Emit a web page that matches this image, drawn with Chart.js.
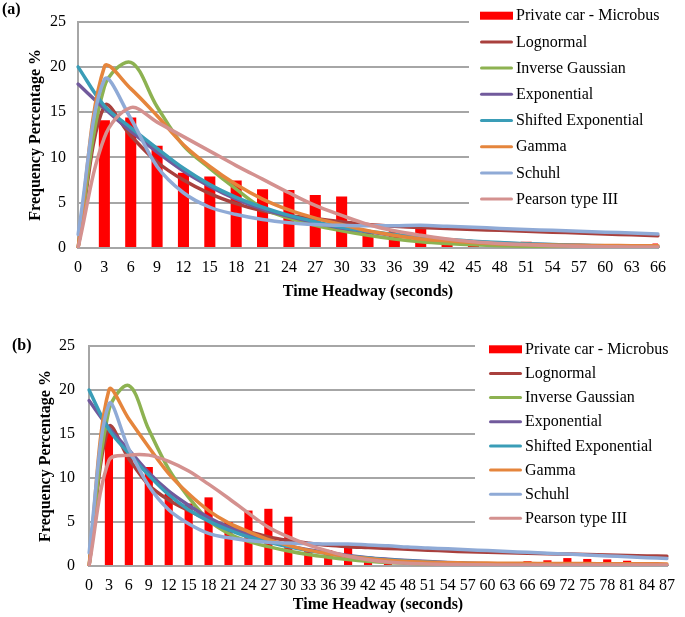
<!DOCTYPE html>
<html><head><meta charset="utf-8">
<script src="https://cdn.jsdelivr.net/npm/chart.js@4.4.0/dist/chart.umd.min.js"></script>
<style>
html,body{margin:0;padding:0;background:#fff;width:685px;height:617px;overflow:hidden;}
canvas{position:absolute;left:0;}
#ca{top:0;width:685px;height:300px;}
#cb{top:300px;width:685px;height:317px;}
</style></head><body>
<canvas id="ca" width="685" height="300"></canvas>
<canvas id="cb" width="685" height="317"></canvas>
<script>
// ---------- data ----------
const seriesNames = ['Private car - Microbus','Lognormal','Inverse Gaussian','Exponential','Shifted Exponential','Gamma','Schuhl','Pearson type III'];
const seriesColors = ['#FF0000','#A9403D','#8DB251','#715A9C','#3A9DB7','#E5853C','#8FAAD6','#D4918F'];
const yTitle = 'Frequency Percentage %';
const xTitle = 'Time Headway (seconds)';

// panel (a)
const catsA = [0,3,6,9,12,15,18,21,24,27,30,33,36,39,42,45,48,51,54,57,60,63,66];
const barA = [0,14.1,14.4,11.3,8.3,7.9,7.45,6.5,6.4,5.85,5.7,2.0,2.0,2.2,0.7,0.5,0.3,0.7,0.1,0,0.4,0,0.5];
const lognA = [0,15.7,12.4,9.5,7.5,6.0,4.9,4.1,3.6,3.25,2.9,2.6,2.4,2.25,2.15,2.05,1.95,1.85,1.75,1.65,1.55,1.45,1.35];
const invGA = [0,17.8,20.5,15.6,11.3,8.8,6.5,4.4,3.3,2.5,1.9,1.4,1.0,0.7,0.5,0.35,0.25,0.18,0.13,0.1,0.08,0.06,0.05];
const expA = [18.1,15.4,12.9,10.6,8.5,6.8,5.4,4.3,3.5,2.8,2.2,1.8,1.4,1.1,0.9,0.7,0.56,0.45,0.36,0.29,0.23,0.18,0.15];
const shExpA = [20.0,15.7,13.3,11.0,8.8,7.0,5.6,4.5,3.6,2.9,2.3,1.85,1.5,1.2,0.95,0.75,0.6,0.48,0.38,0.3,0.24,0.19,0.15];
const gammaA = [0,20.0,17.6,14.6,11.4,9.0,7.0,5.4,4.2,3.3,2.6,1.9,1.4,1.0,0.8,0.6,0.45,0.38,0.33,0.3,0.28,0.26,0.25];
const schuhlA = [1.5,18.6,14.3,9.0,6.1,4.5,3.7,3.15,2.8,2.6,2.5,2.45,2.45,2.5,2.4,2.3,2.15,2.05,1.95,1.85,1.75,1.65,1.55];
const pearsonA = [0,12.2,15.5,13.9,12.3,10.7,9.1,7.6,6.1,4.7,3.6,2.6,1.9,1.4,1.0,0.7,0.5,0.35,0.25,0.18,0.15,0.12,0.1];

// panel (b)
const catsB = [0,3,6,9,12,15,18,21,24,27,30,33,36,39,42,45,48,51,54,57,60,63,66,69,72,75,78,81,84,87];
const barB = [0,15.2,12.4,11.25,8.2,7.1,7.8,5.0,6.3,6.5,5.6,1.8,1.8,2.2,0.9,0.6,0.4,0.3,0.1,0,0,0,0.55,0.65,0.9,0.8,0.75,0.6,0.45,0];
const lognB = [0,15.8,12.2,9.2,7.5,6.3,5.3,4.5,3.9,3.3,2.9,2.6,2.35,2.2,2.1,2.0,1.9,1.8,1.7,1.62,1.56,1.5,1.45,1.4,1.35,1.3,1.25,1.2,1.15,1.1];
const invGB = [0,17.7,20.5,15.5,11.0,7.8,5.2,3.7,2.8,2.2,1.7,1.3,1.0,0.75,0.55,0.4,0.3,0.22,0.16,0.12,0.09,0.07,0.05,0.04,0.03,0.03,0.02,0.02,0.01,0.01];
const expB = [18.8,15.7,13.2,10.6,8.5,6.9,5.5,4.4,3.6,2.9,2.3,1.85,1.5,1.2,0.95,0.77,0.62,0.5,0.4,0.32,0.26,0.21,0.17,0.14,0.11,0.09,0.07,0.06,0.05,0.04];
const shExpB = [20.0,15.5,12.8,10.3,8.1,6.4,5.1,4.1,3.3,2.7,2.2,1.75,1.4,1.1,0.9,0.7,0.56,0.45,0.36,0.29,0.23,0.18,0.15,0.12,0.1,0.08,0.06,0.05,0.04,0.03];
const gammaB = [0,20.0,16.7,13.5,10.5,8.2,6.3,4.9,3.9,3.0,2.35,1.8,1.4,1.1,0.85,0.65,0.5,0.42,0.38,0.35,0.33,0.31,0.3,0.29,0.28,0.27,0.26,0.25,0.25,0.24];
const schuhlB = [1.5,18.4,13.3,9.1,6.4,4.8,3.7,3.2,2.9,2.7,2.6,2.55,2.5,2.5,2.4,2.3,2.15,2.05,1.95,1.85,1.75,1.65,1.55,1.45,1.35,1.25,1.15,1.05,0.95,0.85];
const pearsonB = [0,12.0,12.6,12.6,11.9,10.8,9.3,7.7,6.0,4.4,3.3,2.4,1.7,1.1,0.7,0.45,0.3,0.22,0.18,0.15,0.13,0.12,0.11,0.1,0.1,0.1,0.1,0.1,0.1,0.1];

// ---------- rendering ----------
const FONT = "'Liberation Serif','Times New Roman',serif";

const panelLegend = {
  id: 'panelLegend',
  afterDraw(chart, args, o) {
    const ctx = chart.ctx;
    ctx.save();
    ctx.fillStyle = '#fff';
    ctx.fillRect(o.boxLeft, 0, chart.width - o.boxLeft, o.boxBottom);
    ctx.font = '16px ' + FONT;
    ctx.textBaseline = 'middle';
    ctx.textAlign = 'left';
    chart.data.datasets.forEach((ds, i) => {
      const y = o.rowY0 + i * o.rowGap;
      if (ds.type === 'bar') {
        ctx.fillStyle = ds.backgroundColor;
        ctx.fillRect(o.sampleX, y - 4, o.sampleW, 8);
      } else {
        ctx.strokeStyle = ds.borderColor;
        ctx.lineWidth = 3;
        ctx.lineCap = 'round';
        ctx.beginPath();
        ctx.moveTo(o.sampleX + 1.5, y);
        ctx.lineTo(o.sampleX + o.sampleW - 1.5, y);
        ctx.stroke();
      }
      ctx.fillStyle = '#000';
      ctx.fillText(ds.label, o.textX, y + 0.5);
    });
    ctx.font = 'bold 16px ' + FONT;
    ctx.fillText(o.tag, o.tagX, o.tagY);
    ctx.restore();
  }
};

function makeChart(id, cats, bars, lines, opt) {
  const datasets = [{
    type: 'bar', label: seriesNames[0], data: bars,
    backgroundColor: seriesColors[0], borderWidth: 0,
    barPercentage: opt.barPct, categoryPercentage: 1, order: 10
  }];
  lines.forEach((d, k) => {
    datasets.push({
      type: 'line', label: seriesNames[k + 1], data: d,
      borderColor: seriesColors[k + 1], backgroundColor: seriesColors[k + 1],
      borderWidth: 3.5, pointRadius: 0, tension: 0.35, fill: false,
      borderCapStyle: 'round', borderJoinStyle: 'round', order: 8 - k
    });
  });
  return new Chart(document.getElementById(id), {
    type: 'bar',
    data: { labels: cats, datasets },
    options: {
      responsive: false, animation: false, devicePixelRatio: 1,
      layout: { padding: { left: 0, right: opt.padR, top: opt.padT, bottom: 0 } },
      plugins: {
        legend: { display: false }, tooltip: { enabled: false },
        panelLegend: opt.legend
      },
      scales: {
        x: {
          type: 'category', offset: false,
          grid: { display: false, drawTicks: false },
          border: { display: true, color: '#A6A6A6', width: 2 },
          ticks: { autoSkip: false, maxRotation: 0, minRotation: 0, color: '#000', padding: 10,
                   font: { family: FONT, size: 16 } },
          title: { display: true, text: xTitle, color: '#000',
                   font: { family: FONT, size: 16, weight: 'bold', lineHeight: 1 },
                   padding: { top: 0, bottom: opt.xTitlePad } },
          afterFit(s) { s.height = opt.xH; }
        },
        y: {
          min: 0, max: 25,
          grid: { color: '#A6A6A6', lineWidth: 2, drawTicks: false },
          border: { display: true, color: '#A6A6A6', width: 2 },
          ticks: { stepSize: 5, color: '#000', padding: opt.yTickPad,
                   font: { family: FONT, size: 16 } },
          title: { display: true, text: yTitle, color: '#000',
                   font: { family: FONT, size: 16, weight: 'bold', lineHeight: 1 },
                   padding: { top: opt.yTitlePad, bottom: 0 } },
          afterFit(s) { s.width = opt.yW; }
        }
      }
    },
    plugins: [panelLegend]
  });
}

makeChart('ca', catsA, barA, [lognA, invGA, expA, shExpA, gammaA, schuhlA, pearsonA], {
  barPct: 0.42, padR: 27, padT: 12, xH: 52, yW: 78, xTitlePad: 0, yTickPad: 12, yTitlePad: 28,
  legend: { boxLeft: 469, boxBottom: 214, sampleX: 480, sampleW: 33, textX: 516, rowY0: 15.7, rowGap: 26.2,
            tag: '(a)', tagX: 2, tagY: 10 }
});
makeChart('cb', catsB, barB, [lognB, invGB, expB, shExpB, gammaB, schuhlB, pearsonB], {
  barPct: 0.41, padR: 15, padT: 46, xH: 51, yW: 89, xTitlePad: 4, yTickPad: 14, yTitlePad: 38,
  legend: { boxLeft: 475, boxBottom: 232, sampleX: 489, sampleW: 33, textX: 525, rowY0: 49.3, rowGap: 24.15,
            tag: '(b)', tagX: 12, tagY: 46 }
});
</script></body></html>
